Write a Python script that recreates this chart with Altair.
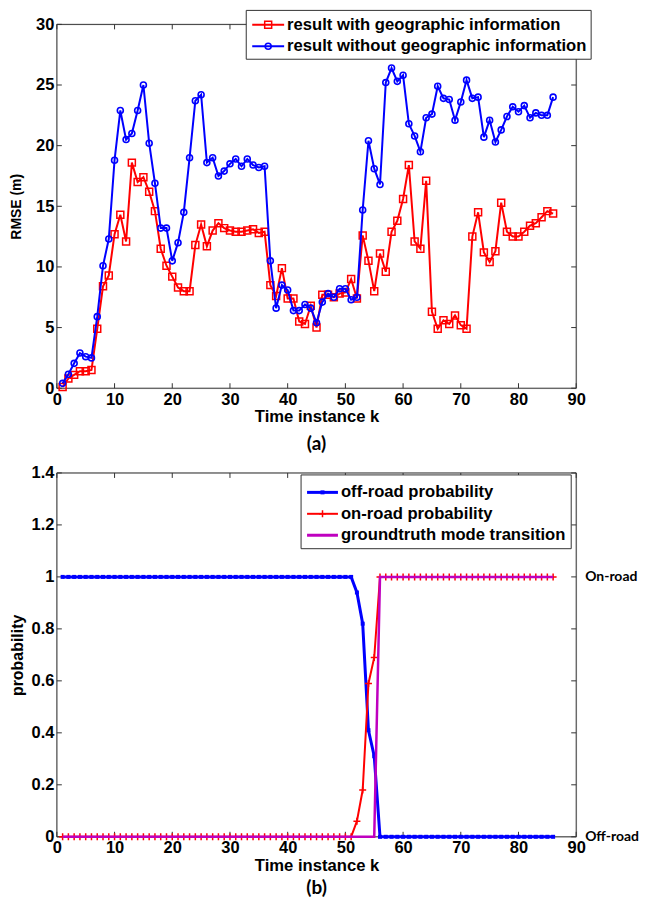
import altair as alt
import pandas as pd

# ---------------- data ----------------
k = list(range(1, 87))

rmse_with = [0.1, 0.8, 1.1, 1.4, 1.4, 1.5, 4.9, 8.4, 9.3, 12.7,
             14.3, 12.1, 18.6, 17.0, 17.4, 16.2, 14.6, 11.5, 10.1, 9.2,
             8.3, 8.0, 8.0, 11.8, 13.5, 11.7, 13.0, 13.6, 13.2, 13.0,
             12.9, 12.9, 13.0, 13.1, 12.8, 12.9, 8.5, 7.6, 9.9, 7.4,
             7.4, 5.5, 5.3, 6.8, 5.0, 7.7, 7.7, 7.5, 7.8, 7.9,
             9.0, 7.4, 12.6, 10.5, 8.0, 11.1, 9.6, 12.9, 13.8, 15.6,
             18.4, 12.1, 11.5, 17.1, 6.3, 4.9, 5.6, 5.3, 6.0, 5.2,
             4.9, 12.5, 14.5, 11.2, 10.4, 11.3, 15.3, 12.9, 12.5, 12.5,
             12.9, 13.4, 13.6, 14.1, 14.6, 14.4]

rmse_without = [0.4, 1.15, 2.05, 2.9, 2.6, 2.5, 5.9, 10.1, 12.3, 18.8,
                22.9, 20.5, 21.0, 22.9, 25.0, 20.2, 16.9, 13.2, 13.2, 10.5,
                12.0, 14.5, 19.0, 23.7, 24.2, 18.6, 19.0, 17.5, 17.9, 18.5,
                18.9, 18.3, 18.9, 18.4, 18.2, 18.3, 10.5, 6.6, 8.5, 8.1,
                6.4, 6.4, 6.9, 6.6, 5.4, 7.1, 7.8, 7.5, 8.2, 8.2,
                7.3, 7.5, 14.7, 20.4, 18.1, 16.8, 25.2, 26.4, 25.3, 25.8,
                21.8, 20.8, 19.5, 22.3, 22.6, 24.9, 23.9, 23.8, 22.1, 23.6,
                25.4, 23.9, 24.0, 20.7, 22.1, 20.3, 21.3, 22.4, 23.2, 22.8,
                23.3, 22.3, 22.7, 22.5, 22.5, 24.0]

p_off = [1, 1, 1, 1, 1, 1, 1, 1, 1, 1,
         1, 1, 1, 1, 1, 1, 1, 1, 1, 1,
         1, 1, 1, 1, 1, 1, 1, 1, 1, 1,
         1, 1, 1, 1, 1, 1, 1, 1, 1, 1,
         1, 1, 1, 1, 1, 1, 1, 1, 1, 1,
         1, 0.94, 0.82, 0.41, 0.31, 0, 0, 0, 0, 0,
         0, 0, 0, 0, 0, 0, 0, 0, 0, 0,
         0, 0, 0, 0, 0, 0, 0, 0, 0, 0,
         0, 0, 0, 0, 0, 0]

p_on = [0, 0, 0, 0, 0, 0, 0, 0, 0, 0,
        0, 0, 0, 0, 0, 0, 0, 0, 0, 0,
        0, 0, 0, 0, 0, 0, 0, 0, 0, 0,
        0, 0, 0, 0, 0, 0, 0, 0, 0, 0,
        0, 0, 0, 0, 0, 0, 0, 0, 0, 0,
        0, 0.06, 0.18, 0.59, 0.69, 1, 1, 1, 1, 1,
        1, 1, 1, 1, 1, 1, 1, 1, 1, 1,
        1, 1, 1, 1, 1, 1, 1, 1, 1, 1,
        1, 1, 1, 1, 1, 1]

groundtruth = [0, 0, 0, 0, 0, 0, 0, 0, 0, 0,
               0, 0, 0, 0, 0, 0, 0, 0, 0, 0,
               0, 0, 0, 0, 0, 0, 0, 0, 0, 0,
               0, 0, 0, 0, 0, 0, 0, 0, 0, 0,
               0, 0, 0, 0, 0, 0, 0, 0, 0, 0,
               0, 0, 0, 0, 0, 1, 1, 1, 1, 1,
               1, 1, 1, 1, 1, 1, 1, 1, 1, 1,
               1, 1, 1, 1, 1, 1, 1, 1, 1, 1,
               1, 1, 1, 1, 1, 1]

x_ticks = [0, 10, 20, 30, 40, 50, 60, 70, 80, 90]
rmse_ticks = [0, 5, 10, 15, 20, 25, 30]
prob_ticks = [0, 0.2, 0.4, 0.6, 0.8, 1.0, 1.2, 1.4]
mode_values = [1, 0]
mode_labels = ["On-road", "Off-road"]

top_legend = ["result with geographic information",
              "result without geographic information"]
bot_legend = ["off-road probability", "on-road probability",
              "groundtruth mode transition"]

# ---------------- style ----------------
W, H = 521, 365
FONT = "Liberation Sans"
RED, BLUE, MAG = "#FF0000", "#0000FF", "#BF00BF"
FRAME = "#333333"
PLUS = "M-1,0H1M0,-1V1"
TICK_FS = 16.5
TEXT_FS = 16.7

df_top = pd.DataFrame({"k": k, "with": rmse_with, "without": rmse_without})
df_bot = pd.DataFrame({"k": k, "off": p_off, "on": p_on, "gt": groundtruth})
one = pd.DataFrame({"a": [0]})

xscale = alt.Scale(domain=[0, 90], nice=False, zero=False)


def xaxis():
    return alt.Axis(values=x_ticks, title="Time instance k", domain=False, ticks=False,
                    grid=False, labelFlush=False, labelFont=FONT, labelFontWeight="bold",
                    labelFontSize=TICK_FS, labelColor="black", labelPadding=3,
                    titleFont=FONT, titleFontWeight="bold", titleFontSize=TEXT_FS,
                    titleColor="black", titlePadding=1)


def yaxis(values, title, tsize, tpad, fmt):
    return alt.Axis(values=values, title=title, domain=False, ticks=False, grid=False,
                    labelFlush=False, format=fmt, labelFont=FONT, labelFontWeight="bold",
                    labelFontSize=TICK_FS, labelColor="black", labelPadding=3,
                    titleFont=FONT, titleFontWeight="bold", titleFontSize=tsize,
                    titleColor="black", titlePadding=tpad)


def frame_and_ticks(yscale, yax, yvals):
    frame = alt.Chart(one).mark_rect(filled=False, stroke=FRAME, strokeWidth=1).encode(
        x=alt.value(0), x2=alt.value(W), y=alt.value(0), y2=alt.value(H))
    tx = pd.DataFrame({"t": x_ticks})
    ty = pd.DataFrame({"t": yvals})
    X = alt.X("t:Q", scale=xscale, axis=xaxis())
    Y = alt.Y("t:Q", scale=yscale, axis=yax)
    r = dict(color=FRAME, strokeWidth=1)
    b = alt.Chart(tx).mark_rule(**r).encode(x=X, y=alt.value(H), y2=alt.value(H - 5))
    t = alt.Chart(tx).mark_rule(**r).encode(x=X, y=alt.value(0), y2=alt.value(5))
    l = alt.Chart(ty).mark_rule(**r).encode(y=Y, x=alt.value(0), x2=alt.value(5))
    rr = alt.Chart(ty).mark_rule(**r).encode(y=Y, x=alt.value(W - 5), x2=alt.value(W))
    return [frame, b, t, l, rr]


def legend(x0, x1, y0, y1, lx0, lx1, mx, tx, rows):
    layers = [alt.Chart(one).mark_rect(fill="white", stroke=FRAME, strokeWidth=1).encode(
        x=alt.value(x0), x2=alt.value(x1), y=alt.value(y0), y2=alt.value(y1))]
    for (yy, color, lw, mk, label) in rows:
        layers.append(alt.Chart(one).mark_rule(color=color, strokeWidth=lw).encode(
            x=alt.value(lx0), x2=alt.value(lx1), y=alt.value(yy)))
        if mk is not None:
            layers.append(alt.Chart(one).mark_point(opacity=1, **mk).encode(
                x=alt.value(mx), y=alt.value(yy)))
        layers.append(alt.Chart(one).mark_text(
            align="left", baseline="middle", font=FONT, fontWeight="bold",
            fontSize=TEXT_FS, color="black").encode(
            x=alt.value(tx), y=alt.value(yy), text=alt.value(label)))
    return layers


# ---------------- top panel ----------------
ys_top = alt.Scale(domain=[0, 30], nice=False)
yax_top = yaxis(rmse_ticks, "RMSE (m)", 14, 12, "d")

sq = dict(shape="square", filled=False, size=49, strokeWidth=1.5, color=RED)
ci = dict(shape="circle", filled=False, size=36, strokeWidth=1.6, color=BLUE)

top_layers = frame_and_ticks(ys_top, yax_top, rmse_ticks)
for field, color, mk in [("with", RED, sq), ("without", BLUE, ci)]:
    X = alt.X("k:Q", scale=xscale, axis=xaxis())
    Y = alt.Y(f"{field}:Q", scale=ys_top, axis=yax_top)
    top_layers.append(alt.Chart(df_top).mark_line(color=color, strokeWidth=2).encode(x=X, y=Y))
    top_layers.append(alt.Chart(df_top).mark_point(opacity=1, **mk).encode(x=X, y=Y))

top_layers += legend(190, 536, -14, 35, 196, 228, 212, 231,
                     [(0.5, RED, 2, sq, top_legend[0]),
                      (22, BLUE, 2, ci, top_legend[1])])

top = alt.layer(*top_layers).properties(
    width=W, height=H,
    title=alt.TitleParams("(a)", orient="bottom", font="Lato", fontWeight="bold",
                          fontSize=19, color="black", offset=10))

# ---------------- bottom panel ----------------
ys_bot = alt.Scale(domain=[0, 1.4], nice=False)
yax_bot = yaxis(prob_ticks, "probability", 16, 6, "~g")

bsq = dict(shape="square", filled=True, size=16, color=BLUE)
rpl = dict(shape=PLUS, filled=False, size=49, strokeWidth=1.5, color=RED)

bot_layers = frame_and_ticks(ys_bot, yax_bot, prob_ticks)
X = alt.X("k:Q", scale=xscale, axis=xaxis())
Yoff = alt.Y("off:Q", scale=ys_bot, axis=yax_bot)
Yon = alt.Y("on:Q", scale=ys_bot, axis=yax_bot)
Ygt = alt.Y("gt:Q", scale=ys_bot, axis=yax_bot)
bot_layers += [
    alt.Chart(df_bot).mark_line(color=BLUE, strokeWidth=3).encode(x=X, y=Yoff),
    alt.Chart(df_bot).mark_point(opacity=1, **bsq).encode(x=X, y=Yoff),
    alt.Chart(df_bot).mark_line(color=RED, strokeWidth=2).encode(x=X, y=Yon),
    alt.Chart(df_bot).mark_point(opacity=1, **rpl).encode(x=X, y=Yon),
    alt.Chart(df_bot).mark_line(color=MAG, strokeWidth=2.5).encode(x=X, y=Ygt),
]
df_mode = pd.DataFrame({"v": mode_values, "lab": mode_labels})
bot_layers.append(alt.Chart(df_mode).mark_text(
    align="left", baseline="middle", font="Lato", fontWeight="bold", fontSize=14,
    color="black").encode(
    y=alt.Y("v:Q", scale=ys_bot, axis=yax_bot), x=alt.value(W + 9), text="lab:N"))

bot_layers += legend(245, 516, 2, 76, 251, 282, 266.5, 285,
                     [(19.5, BLUE, 3, bsq, bot_legend[0]),
                      (41, RED, 2, rpl, bot_legend[1]),
                      (62.5, MAG, 3, None, bot_legend[2])])

bot = alt.layer(*bot_layers).properties(
    width=W, height=H,
    title=alt.TitleParams("(b)", orient="bottom", font="Lato", fontWeight="bold",
                          fontSize=19, color="black", offset=5))

chart = alt.vconcat(top, bot, spacing=9).properties(
    padding={"left": 0, "top": 0, "right": 0, "bottom": 0}
).configure_view(strokeWidth=0).configure(background="white", padding=0)

chart.save("out.html", embed_options={"renderer": "svg", "actions": False})
